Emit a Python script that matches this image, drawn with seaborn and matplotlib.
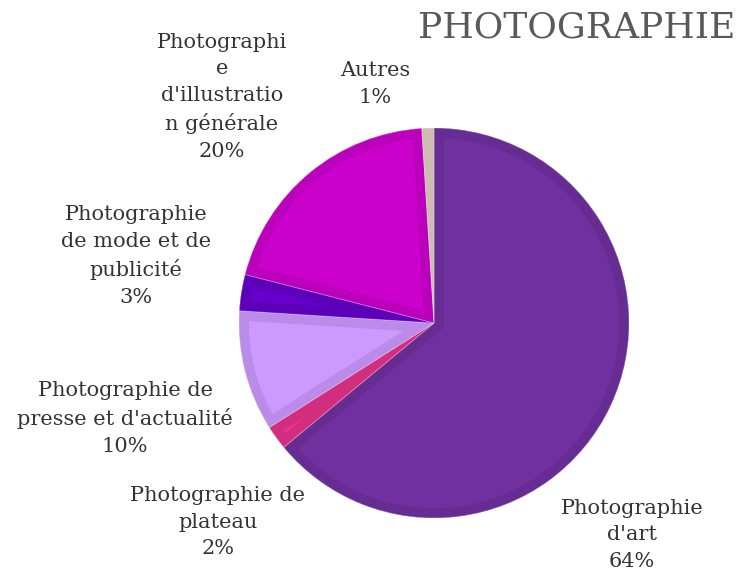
import matplotlib.pyplot as plt
import seaborn as sns
from matplotlib.colors import to_rgb
from matplotlib.patches import Wedge

# data
categories = [
    "Photographie\nd'art",
    "Photographie de\nplateau",
    "Photographie de\npresse et d'actualité",
    "Photographie\nde mode et de\npublicité",
    "Photographi\ne\nd'illustratio\nn générale",
    "Autres",
]
shares = [64, 2, 10, 3, 20, 1]
slice_colors = ["#7030A0", "#E8338A", "#CC99FF", "#6600CC", "#CC00CC", "#E2CFC4"]

# label centres in pixels (x, y from top), layout only
label_px = [(632, 535), (218, 522), (125, 418), (136, 256), (222, 97), (375, 84)]

W, H = 737, 573
CX, CY, R = 434, 323, 195

sns.set_theme(style="white")
plt.rcParams["font.family"] = ["DejaVu Serif"]

fig = plt.figure(figsize=(W / 100, H / 100), dpi=100)
ax = fig.add_axes([(CX - R) / W, (H - CY - R) / H, 2 * R / W, 2 * R / H])

palette = sns.color_palette(slice_colors)
wedges, _ = ax.pie(
    shares,
    colors=palette,
    startangle=90,
    counterclock=False,
    radius=1,
    wedgeprops={"linewidth": 0},
)

# darker inner border on every slice
for w, c in zip(wedges, palette):
    dark = tuple(v * 0.91 for v in to_rgb(c))
    border = Wedge(w.center, w.r, w.theta1, w.theta2,
                   facecolor="none", edgecolor=dark, linewidth=14)
    ax.add_patch(border)
    border.set_clip_path(w)
    # thin light separator
    sep = Wedge(w.center, w.r, w.theta1, w.theta2,
                facecolor="none", edgecolor=(1, 1, 1, 0.35), linewidth=0.6)
    ax.add_patch(sep)

ax.set_xlim(-1, 1)
ax.set_ylim(-1, 1)
ax.set_aspect("equal")
ax.axis("off")

for label, share, (px, py) in zip(categories, shares, label_px):
    fig.text(
        px / W, 1 - py / H, f"{label}\n{share}%",
        ha="center", va="center", fontsize=15, color="#333333",
        linespacing=1.5,
    )

fig.text(735 / W, 1 - 27 / H, "PHOTOGRAPHIE", ha="right", va="center",
         fontsize=26, color="#595959")

fig.savefig("out.png", dpi=100)
